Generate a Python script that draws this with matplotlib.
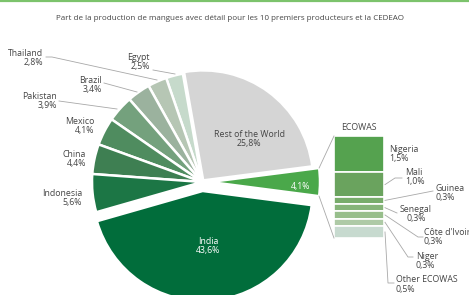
import matplotlib.pyplot as plt
from matplotlib.lines import Line2D
import numpy as np

plt.rcParams['font.family'] = ['Open Sans', 'DejaVu Sans']

titre = "Part de la production de mangues avec détail pour les 10 premiers producteurs et la CEDEAO"

# Camembert principal (sens anti-horaire à partir de la CEDEAO)
pays = ["ECOWAS", "Rest of the World", "Egypt", "Thailand", "Brazil",
        "Pakistan", "Mexico", "China", "Indonesia", "India"]
parts = [4.1, 25.8, 2.5, 2.8, 3.4, 3.9, 4.1, 4.4, 5.6, 43.6]
couleurs = ["#4aa84a", "#d5d5d5", "#c6dacb", "#b6c6b4", "#9bb29e",
            "#74a17d", "#4f8c5f", "#3e7f52", "#1c7645", "#016d3b"]

# Détail CEDEAO (barre empilée)
cedeao = ["Nigeria", "Mali", "Guinea", "Senegal", "Côte d'Ivoire",
          "Niger", "Other ECOWAS"]
parts_cedeao = [1.5, 1.0, 0.3, 0.3, 0.3, 0.3, 0.5]
couleurs_cedeao = ["#55a24f", "#6aa35e", "#78ac6b", "#86b479",
                   "#97be8b", "#aecaa6", "#c7dacf"]

W, H = 469, 295
texte = "#454545"
gris = "#a8a8a8"


def fmt(v):
    return f"{v:.1f}".replace(".", ",") + "%"


def px(x, y):
    # coordonnées pixel (origine en haut) -> coordonnées données
    return x, H - y


fig = plt.figure(figsize=(W / 100, H / 100), dpi=100)
ax = fig.add_axes([0, 0, 1, 1])

explode = [8, 2, 0, 0, 0, 0, 0, 0, 0, 9]
wedges, _ = ax.pie(parts, colors=couleurs, startangle=-7.4,
                   center=px(202, 182), radius=110, explode=explode,
                   wedgeprops=dict(edgecolor="white", linewidth=1.8))
ax.set_xlim(0, W)
ax.set_ylim(0, H)
ax.set_aspect("equal")
ax.axis("off")

# Étiquettes à gauche (alignées à droite)
pos_gauche = {
    "Thailand": (43, 58), "Egypt": (150, 62), "Brazil": (102, 85),
    "Pakistan": (57, 101), "Mexico": (94, 126), "China": (86, 159),
    "Indonesia": (82, 198),
}
for nom, (x, y) in pos_gauche.items():
    v = parts[pays.index(nom)]
    ax.text(*px(x, y), f"{nom}\n{fmt(v)}", ha="right", va="center",
            ma="right", fontsize=6.3, color=texte, linespacing=1.1)

# Lignes de rappel à gauche
rappels = [
    [(46, 57), (52, 57), (157, 80)],
    [(153, 70), (175, 74)],
    [(104, 83), (137, 92)],
    [(59, 101), (117, 109)],
]
for chemin in rappels:
    xs, ys = zip(*[px(x, y) for x, y in chemin])
    ax.plot(xs, ys, color=gris, lw=0.6)

ax.text(*px(249, 139), f"Rest of the World\n{fmt(parts[1])}", ha="center",
        va="center", fontsize=6.3, color=texte, linespacing=1.1)
ax.text(*px(208, 246), f"India\n{fmt(parts[9])}", ha="center",
        va="center", fontsize=6.3, color="white", linespacing=1.1)
ax.text(*px(301, 186), fmt(parts[0]), ha="center", va="center",
        fontsize=6.3, color="white")

# Barre empilée CEDEAO
bar_x, bar_w, bar_haut, echelle = 359, 50, H - 136, 24.3
hauteurs = np.array(parts_cedeao) * echelle
bas = bar_haut - np.cumsum(hauteurs)
ax.bar([bar_x] * len(cedeao), hauteurs, bottom=bas, width=bar_w,
       color=couleurs_cedeao, edgecolor="white", linewidth=1.2)
ax.text(bar_x, bar_haut + 8, "ECOWAS", ha="center", va="center",
        fontsize=6.3, color=texte)

# Liaisons camembert -> barre
w = wedges[0]
cx, cy = w.center
for theta, yb in [(w.theta2, bar_haut), (w.theta1, bas[-1])]:
    t = np.radians(theta)
    ax.plot([cx + w.r * np.cos(t), bar_x - bar_w / 2],
            [cy + w.r * np.sin(t), yb], color=gris, lw=0.6)

# Étiquettes à droite de la barre
pos_droite = [(389, 154, "left"), (405, 177, "left"), (435, 193, "left"),
              (400, 214, "center"), (424, 237, "left"), (416, 261, "left"),
              (396, 284.5, "left")]
chemins_droite = [None, [(395, 178), (402, 178)], [(433, 191)],
                  [(397, 213)], [(418, 237), (423, 237)],
                  [(408, 257), (413, 257)], [(388, 283), (394, 283)]]
centres = bas + hauteurs / 2
for i, nom in enumerate(cedeao):
    x, y, ma = pos_droite[i]
    if ma == "center":
        ax.text(*px(x + 16, y), f"{nom}\n{fmt(parts_cedeao[i])}", ha="center",
                va="center", ma="center", fontsize=6.3, color=texte,
                linespacing=1.1)
    else:
        ax.text(*px(x, y), f"{nom}\n{fmt(parts_cedeao[i])}", ha="left",
                va="center", fontsize=6.3, color=texte, linespacing=1.1)
    if chemins_droite[i]:
        pts = [(bar_x + bar_w / 2 + 1, centres[i])] + \
              [px(a, b) for a, b in chemins_droite[i]]
        xs, ys = zip(*pts)
        ax.plot(xs, ys, color=gris, lw=0.6)

fig.text(230 / W, 1 - 18 / H, titre, ha="center", va="center",
         fontsize=5.8, color=texte)
fig.add_artist(Line2D([0, 1], [1 - 0.8 / H, 1 - 0.8 / H],
                      transform=fig.transFigure, color="#7cc36c", lw=1.6))

fig.savefig("out.png", dpi=100)
